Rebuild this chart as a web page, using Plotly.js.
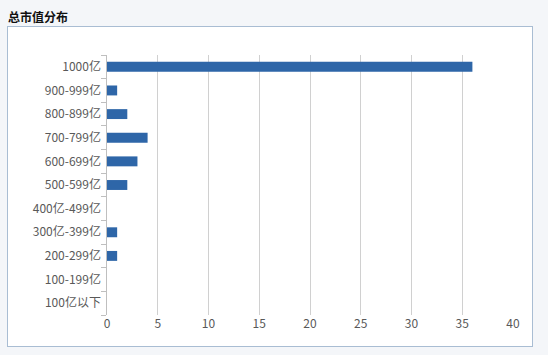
<!DOCTYPE html>
<html><head><meta charset="utf-8">
<script src="https://cdn.plot.ly/plotly-3.0.1.min.js"></script>
<style>
html,body{margin:0;padding:0;background:#f4f6f9;}
#box{position:absolute;left:7px;top:26px;width:524px;height:319px;background:#fff;border:1px solid #a9bdd3;}
#title{position:absolute;left:8px;top:8px;font:bold 12px "Noto Sans CJK SC",sans-serif;color:#111;}
#chart{position:absolute;left:0;top:0;width:548px;height:355px;}
</style></head>
<body>
<div id="box"></div>
<div id="title">总市值分布</div>
<div id="chart"></div>
<script>
const categories = ['100亿以下','100-199亿','200-299亿','300亿-399亿','400亿-499亿','500-599亿','600-699亿','700-799亿','800-899亿','900-999亿','1000亿'];
const counts = [0,0,1,1,0,2,3,4,2,1,36];
const xTicks = [0,5,10,15,20,25,30,35,40];

Plotly.newPlot('chart', [{
  type:'bar', orientation:'h', x:counts, y:categories,
  marker:{color:'#2e66a8'}, width:0.42, hoverinfo:'none'
}], {
  width:548, height:355,
  paper_bgcolor:'rgba(0,0,0,0)', plot_bgcolor:'rgba(0,0,0,0)',
  margin:{l:107,r:35,t:55,b:40},
  font:{family:'"Noto Sans CJK SC", sans-serif', size:12, color:'#595959'},
  showlegend:false,
  xaxis:{range:[0,40], tickvals:xTicks, showgrid:true, gridcolor:'#d0d0d0', zeroline:false,
         showline:false, ticks:'', tickfont:{size:12,color:'#595959'}, fixedrange:true},
  yaxis:{type:'category', categoryorder:'array', categoryarray:categories, showline:true, linecolor:'#bfbfbf',
         ticks:'outside', tickson:'boundaries', ticklen:5, tickcolor:'#bfbfbf', showgrid:false,
         ticksuffix:' ', tickfont:{size:12,color:'#595959'}, fixedrange:true}
}, {staticPlot:true});
</script>
</body></html>
